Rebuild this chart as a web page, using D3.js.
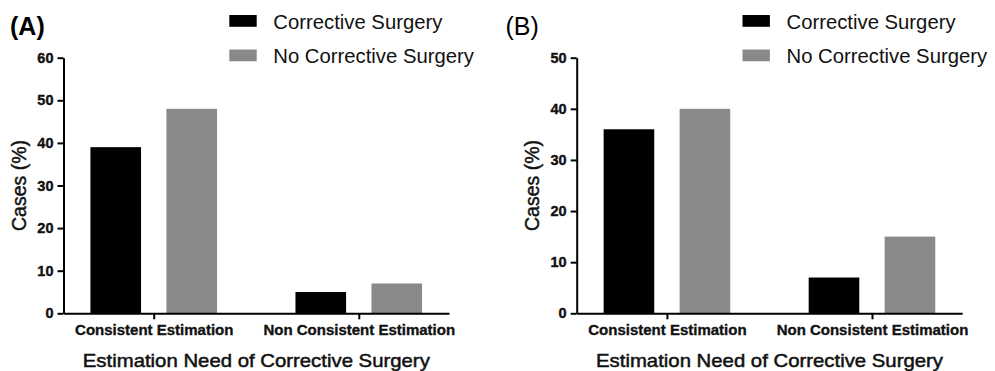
<!DOCTYPE html>
<html>
<head>
<meta charset="utf-8">
<script src="https://cdn.jsdelivr.net/npm/d3@7"></script>
<style>
  html, body { margin: 0; padding: 0; background: #fff; }
  svg { display: block; font-family: Arial, "Liberation Sans", sans-serif; }
</style>
</head>
<body>
<svg id="chart" width="995" height="371"></svg>
<script>
// ---- data ----
const categories = ["Consistent Estimation", "Non Consistent Estimation"];
const series = ["Corrective Surgery", "No Corrective Surgery"];
const panelA_corrective = [39, 5];
const panelA_noCorrective = [48, 7];
const panelB_corrective = [36, 7];
const panelB_noCorrective = [40, 15];
const yTicksA = [0, 10, 20, 30, 40, 50, 60];
const yTicksB = [0, 10, 20, 30, 40, 50];
const panelLabels = ["(A)", "(B)"];
const yTitle = "Cases (%)";
const xTitle = "Estimation Need of Corrective Surgery";

const colors = { "Corrective Surgery": "#000000", "No Corrective Surgery": "#898989" };
const FONT = 'Arial, "Liberation Sans", sans-serif';

const svg = d3.select("#chart");

function drawPanel(dx, label, labelBold, labelX, corrective, noCorrective, yTicks) {
  const g = svg.append("g").attr("transform", `translate(${dx},0)`);
  const yMax = yTicks[yTicks.length - 1];
  const y = d3.scaleLinear().domain([0, yMax]).range([313.3, 57.7]);
  const x0 = d3.scalePoint().domain(categories).range([63.5, 449]).padding(0.44);
  const x1 = d3.scaleBand().domain(series).range([-63.3, 63.3]).paddingInner(0.334);

  const rows = categories.map((c, i) => ({
    cat: c,
    vals: [
      { s: series[0], v: corrective[i] },
      { s: series[1], v: noCorrective[i] }
    ]
  }));

  // bars
  const grp = g.selectAll("g.cat").data(rows).enter().append("g")
    .attr("transform", d => `translate(${x0(d.cat)},0)`);
  grp.selectAll("rect").data(d => d.vals).enter().append("rect")
    .attr("x", d => x1(d.s))
    .attr("width", x1.bandwidth())
    .attr("y", d => y(d.v))
    .attr("height", d => y(0) - y(d.v))
    .attr("fill", d => colors[d.s]);

  // y axis
  const ya = g.append("g").attr("transform", "translate(63.5,0)")
    .call(d3.axisLeft(y).tickValues(yTicks).tickSize(6).tickSizeOuter(0).tickPadding(4));
  ya.attr("font-family", FONT).attr("font-size", 14.5);
  ya.select(".domain").attr("stroke", "#000").attr("stroke-width", 2);
  ya.selectAll(".tick line").attr("stroke", "#000").attr("stroke-width", 2);
  ya.selectAll(".tick text").style("font-size", "14.5px").style("font-weight", "bold")
    .attr("fill", "#111").attr("stroke", "#111").attr("stroke-width", 0.4);

  // x axis
  const xa = g.append("g").attr("transform", "translate(0,313.3)")
    .call(d3.axisBottom(x0).tickSize(6).tickSizeOuter(0).tickPadding(6));
  xa.attr("font-family", FONT).attr("font-size", 15);
  xa.select(".domain").attr("stroke", "#000").attr("stroke-width", 2);
  xa.selectAll(".tick line").attr("stroke", "#000").attr("stroke-width", 2);
  xa.selectAll(".tick text").style("font-size", "15px").style("font-weight", "bold")
    .attr("fill", "#111").attr("stroke", "#111").attr("stroke-width", 0.35)
    .attr("dy", "0.71em").attr("y", 11.5);

  // axis titles
  g.append("text")
    .attr("transform", "translate(25.5,185.5) rotate(-90)")
    .attr("text-anchor", "middle")
    .attr("font-size", "19.5px")
    .attr("fill", "#111").attr("stroke", "#111").attr("stroke-width", 0.45)
    .text(yTitle);

  g.append("text")
    .attr("x", 256.3).attr("y", 366.5)
    .attr("text-anchor", "middle")
    .attr("font-size", "19px")
    .attr("textLength", 347).attr("lengthAdjust", "spacingAndGlyphs")
    .attr("fill", "#111").attr("stroke", "#111").attr("stroke-width", 0.5)
    .text(xTitle);

  // legend
  const lg = g.selectAll("g.leg").data(series).enter().append("g")
    .attr("transform", (d, i) => `translate(229.3,${15 + i * 34.5})`);
  lg.append("rect").attr("width", 27.4).attr("height", 11.8).attr("fill", d => colors[d]);
  lg.append("text").attr("x", 44).attr("y", 13.5)
    .attr("font-size", "20.3px").attr("fill", "#111").text(d => d);

  // panel label
  svg.append("text")
    .attr("x", labelX).attr("y", 34.5)
    .attr("font-size", "25px")
    .attr("font-weight", labelBold ? "bold" : "normal")
    .attr("fill", "#000")
    .text(label);
}

drawPanel(0, panelLabels[0], true, 10, panelA_corrective, panelA_noCorrective, yTicksA);
drawPanel(513.2, panelLabels[1], false, 505.5, panelB_corrective, panelB_noCorrective, yTicksB);
</script>
</body>
</html>
